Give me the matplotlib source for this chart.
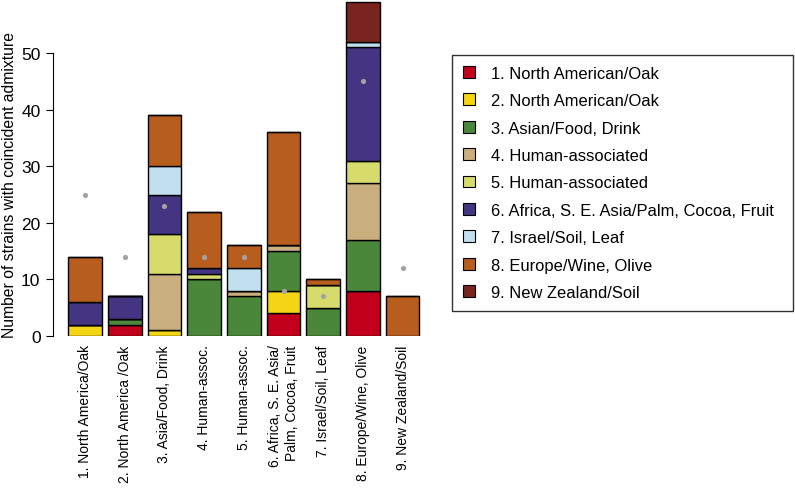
import numpy as np
import matplotlib.pyplot as plt
from matplotlib.patches import Patch

plt.rcParams['font.family'] = ['Liberation Sans', 'DejaVu Sans']

groups = ['1. North American/Oak', '2. North American/Oak', '3. Asian/Food, Drink',
          '4. Human-associated', '5. Human-associated',
          '6. Africa, S. E. Asia/Palm, Cocoa, Fruit', '7. Israel/Soil, Leaf',
          '8. Europe/Wine, Olive', '9. New Zealand/Soil']
colors = ['#C2001B', '#F4D515', '#4B873A', '#C9AE7E', '#D7DB6C',
          '#433581', '#C2DFEF', '#B75D1E', '#7A2420']

xlabels = ['1. North America/Oak', '2. North America /Oak', '3. Asia/Food, Drink',
           '4. Human-assoc.', '5. Human-assoc.', '6. Africa, S. E. Asia/\nPalm, Cocoa, Fruit',
           '7. Israel/Soil, Leaf', '8. Europe/Wine, Olive', '9. New Zealand/Soil']

# rows: admixture group, columns: population bar
counts = np.array([
    [0, 2, 0, 0, 0, 4, 0, 8, 0],    # 1
    [2, 0, 1, 0, 0, 4, 0, 0, 0],    # 2
    [0, 1, 0, 10, 7, 7, 5, 9, 0],   # 3
    [0, 0, 10, 0, 1, 1, 0, 10, 0],  # 4
    [0, 0, 7, 1, 0, 0, 4, 4, 0],    # 5
    [4, 4, 7, 1, 0, 0, 0, 20, 0],   # 6
    [0, 0, 5, 0, 4, 0, 0, 1, 0],    # 7
    [8, 0, 9, 10, 4, 20, 1, 0, 7],  # 8
    [0, 0, 0, 0, 0, 0, 0, 7, 0],    # 9
])
expected = [25, 14, 23, 14, 14, 8, 7, 45, 12]

fig = plt.figure(figsize=(7.95, 4.89), dpi=100)
ax = fig.add_axes([53 / 795, 1 - 337 / 489, (430 - 53) / 795, 335 / 489])

x = np.arange(len(xlabels))
bottom = np.zeros(len(xlabels))
for i in range(len(groups)):
    ax.bar(x, counts[i], bottom=bottom, width=0.85, color=colors[i],
           edgecolor='black', linewidth=1.0)
    bottom += counts[i]

ax.scatter(x, expected, s=14, color='#A3A3A3', zorder=5, linewidths=0)

ax.set_xlim(-0.806, 8.69)
ax.set_ylim(0, 59.2)
ax.spines[['top', 'right', 'bottom']].set_visible(False)
ax.spines['left'].set_bounds(0, 50)
ax.set_yticks([0, 10, 20, 30, 40, 50])
ax.tick_params(axis='y', labelsize=12.5, length=5, pad=4)
ax.set_xticks(x)
ax.set_xticklabels(xlabels, rotation=90, fontsize=10, ha='center', va='top',
                   multialignment='right')
ax.tick_params(axis='x', length=0, pad=6)
ax.set_ylabel('Number of strains with coincident admixture', fontsize=11.3)
ax.yaxis.set_label_coords(-0.095, 0.455)

handles = [Patch(facecolor=c, edgecolor='black', linewidth=0.8) for c in colors]
leg = fig.legend(handles, groups, loc='upper left', mode='expand',
                 bbox_to_anchor=(452 / 795, 182 / 489, 341 / 795, 251 / 489),
                 fontsize=11.9, frameon=True, fancybox=False, edgecolor='black',
                 handlelength=0.73, handleheight=0.73, handletextpad=0.97,
                 labelspacing=0.75, borderpad=0.65, borderaxespad=0)
leg.get_frame().set_linewidth(1.0)

fig.savefig('out.png', dpi=100)
